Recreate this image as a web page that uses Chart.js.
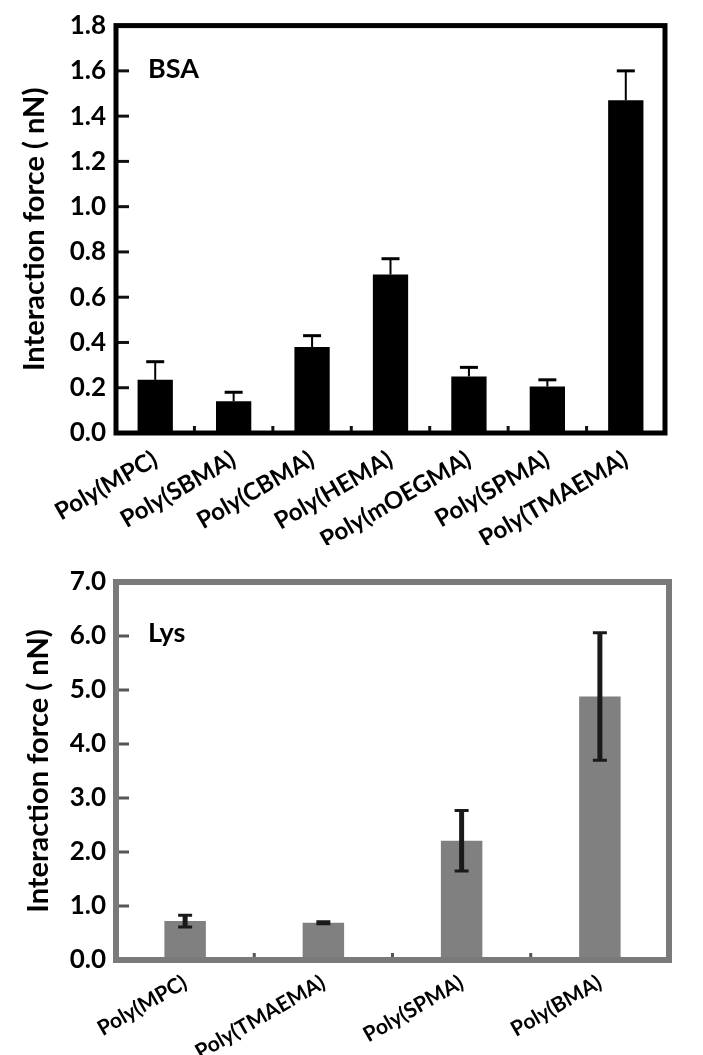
<!DOCTYPE html>
<html>
<head>
<meta charset="utf-8">
<script src="https://cdn.jsdelivr.net/npm/chart.js@4.4.1/dist/chart.umd.min.js"></script>
<style>
  html, body { margin: 0; padding: 0; background: #fff; }
  #topBox { position: absolute; left: 0; top: 0; width: 703px; height: 545px; }
  #botBox { position: absolute; left: 0; top: 545px; width: 703px; height: 510px; }
</style>
</head>
<body>
<div id="topBox"><canvas id="bsaChart"></canvas></div>
<div id="botBox"><canvas id="lysChart"></canvas></div>
<script>
// datos
const bsaLabels = ['Poly(MPC)', 'Poly(SBMA)', 'Poly(CBMA)', 'Poly(HEMA)', 'Poly(mOEGMA)', 'Poly(SPMA)', 'Poly(TMAEMA)'];
const bsaValues = [0.235, 0.14, 0.38, 0.70, 0.25, 0.205, 1.47];
const bsaErrors = [0.08, 0.04, 0.05, 0.07, 0.04, 0.03, 0.13];

const lysLabels = ['Poly(MPC)', 'Poly(TMAEMA)', 'Poly(SPMA)', 'Poly(BMA)'];
const lysValues = [0.72, 0.69, 2.21, 4.88];
const lysErrors = [0.11, 0.02, 0.56, 1.18];

const yTitle = 'Interaction force ( nN)';

Chart.defaults.font.family = "Lato, 'Liberation Sans', sans-serif";
Chart.defaults.font.weight = 'bold';
Chart.defaults.color = '#000';

// marco, marcas internas, barras de error y etiqueta del panel
const decoPlugin = {
    id: 'deco',
    afterDatasetsDraw(chart, args, opts) {
        const ctx = chart.ctx;
        const area = chart.chartArea;
        const x = chart.scales.x;
        const y = chart.scales.y;
        const ds = chart.data.datasets[0];
        ctx.save();

        // barras de error
        ctx.strokeStyle = opts.errColor;
        opts.errors.forEach((e, i) => {
            const cx = x.getPixelForValue(i);
            const yTop = y.getPixelForValue(ds.data[i] + e);
            const yBot = opts.twoSided ? y.getPixelForValue(ds.data[i] - e) : y.getPixelForValue(ds.data[i]);
            ctx.lineWidth = opts.errWidth;
            ctx.beginPath();
            ctx.moveTo(cx, yTop);
            ctx.lineTo(cx, yBot);
            ctx.stroke();
            ctx.lineWidth = 3;
            ctx.beginPath();
            ctx.moveTo(cx - opts.capHalf, yTop);
            ctx.lineTo(cx + opts.capHalf, yTop);
            if (opts.twoSided) {
                ctx.moveTo(cx - opts.capHalf, yBot);
                ctx.lineTo(cx + opts.capHalf, yBot);
            }
            ctx.stroke();
        });

        // marcas del eje y hacia dentro
        ctx.strokeStyle = opts.tickColor;
        ctx.lineWidth = 3;
        y.ticks.forEach(t => {
            const py = y.getPixelForValue(t.value);
            ctx.beginPath();
            ctx.moveTo(area.left, py);
            ctx.lineTo(area.left + 13, py);
            ctx.stroke();
        });

        // marcas entre categorías
        for (let i = 1; i < ds.data.length; i++) {
            const px = (x.getPixelForValue(i - 1) + x.getPixelForValue(i)) / 2;
            ctx.beginPath();
            ctx.moveTo(px, area.bottom);
            ctx.lineTo(px, area.bottom - 7);
            ctx.stroke();
        }

        // marco
        ctx.strokeStyle = opts.frameColor;
        ctx.lineWidth = opts.frameWidth;
        ctx.strokeRect(area.left, area.top, area.right - area.left, area.bottom - area.top);

        // etiqueta
        ctx.fillStyle = '#000';
        ctx.font = "bold 27px Lato, 'Liberation Sans', sans-serif";
        ctx.textBaseline = 'top';
        ctx.fillText(opts.label, area.left + 32, area.top + opts.labelDy);
        ctx.restore();
    }
};

function makeChart(id, labels, values, errors, cfg) {
    return new Chart(document.getElementById(id), {
        type: 'bar',
        data: {
            labels: labels,
            datasets: [{
                data: values,
                backgroundColor: cfg.barColor,
                barPercentage: cfg.barPct,
                categoryPercentage: 1
            }]
        },
        options: {
            responsive: true,
            maintainAspectRatio: false,
            animation: false,
            layout: { padding: cfg.padding },
            plugins: {
                legend: { display: false },
                tooltip: { enabled: false },
                deco: {
                    errors: errors,
                    twoSided: cfg.twoSided,
                    errColor: cfg.errColor,
                    errWidth: cfg.errWidth,
                    capHalf: cfg.capHalf,
                    tickColor: cfg.tickColor,
                    frameColor: cfg.frameColor,
                    frameWidth: cfg.frameWidth,
                    label: cfg.label,
                    labelDy: cfg.labelDy
                }
            },
            scales: {
                x: {
                    grid: { display: false },
                    border: { display: false },
                    ticks: {
                        minRotation: 30,
                        maxRotation: 30,
                        padding: cfg.xPad,
                        font: { size: cfg.xFont }
                    },
                    afterFit(scale) { scale.height = cfg.xHeight; }
                },
                y: {
                    min: 0,
                    max: cfg.yMax,
                    grid: { display: false, drawTicks: false },
                    border: { display: false },
                    ticks: {
                        stepSize: cfg.yStep,
                        padding: 10,
                        font: { size: 26 },
                        callback: v => v.toFixed(1)
                    },
                    title: {
                        display: true,
                        text: yTitle,
                        font: { size: 29 },
                        padding: { top: cfg.titlePad, bottom: 0 }
                    },
                    afterFit(scale) { scale.width = 116; }
                }
            }
        },
        plugins: [decoPlugin]
    });
}

makeChart('bsaChart', bsaLabels, bsaValues, bsaErrors, {
    barColor: '#000',
    barPct: 0.45,
    twoSided: false,
    errColor: '#000',
    errWidth: 2,
    capHalf: 9,
    tickColor: '#111',
    frameColor: '#000',
    frameWidth: 5,
    label: 'BSA',
    labelDy: 30,
    yMax: 1.8,
    yStep: 0.2,
    xHeight: 112,
    xFont: 24,
    xPad: 4,
    titlePad: 17,
    padding: { top: 25, right: 38, left: 0, bottom: 0 }
});

makeChart('lysChart', lysLabels, lysValues, lysErrors, {
    barColor: '#808080',
    barPct: 0.30,
    twoSided: true,
    errColor: '#1a1a1a',
    errWidth: 5,
    capHalf: 7,
    tickColor: '#555',
    frameColor: '#7a7a7a',
    frameWidth: 6,
    label: 'Lys',
    labelDy: 38,
    yMax: 7,
    yStep: 1,
    xHeight: 95,
    xFont: 21,
    xPad: 2,
    titlePad: 21,
    padding: { top: 37, right: 34, left: 0, bottom: 0 }
});
</script>
</body>
</html>
